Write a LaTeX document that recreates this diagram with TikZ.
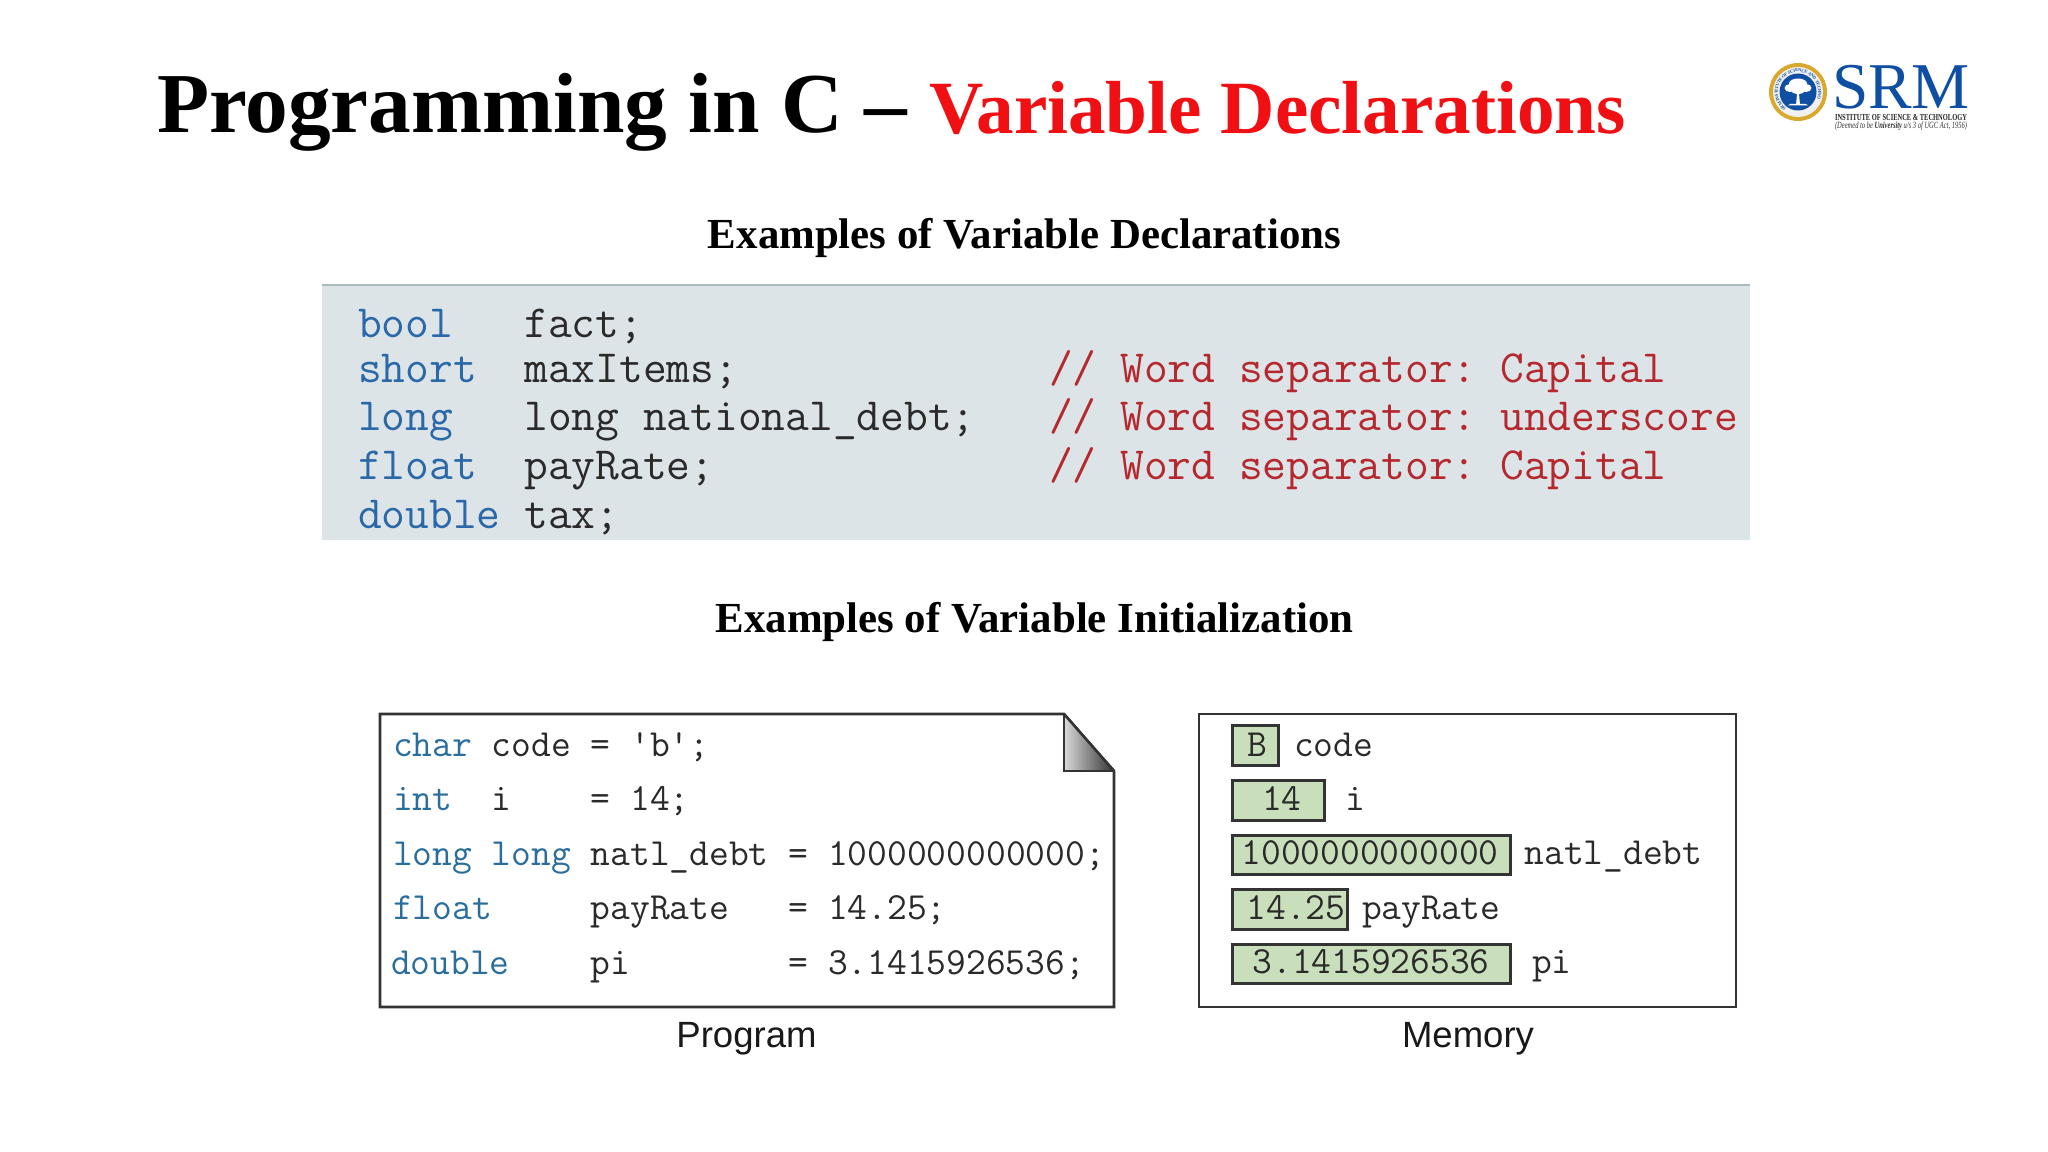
\documentclass[tikz,border=0pt]{standalone}
\usepackage{fontspec}
\setmainfont{Liberation Serif}
\setsansfont{Liberation Sans}
\usetikzlibrary{decorations.text}
\frenchspacing
\definecolor{titlered}{HTML}{F00F12}
\definecolor{panelbg}{HTML}{DCE4E8}
\definecolor{panelline}{HTML}{A9BDBF}
\definecolor{kwone}{HTML}{2B68A8}
\definecolor{cmt}{HTML}{B5282E}
\definecolor{codeink}{HTML}{2A2A2A}
\definecolor{kwtwo}{HTML}{2A6E9E}
\definecolor{memfill}{HTML}{C9DFBB}
\definecolor{srmblue}{HTML}{0F4FA3}
\definecolor{srmgold}{HTML}{D8A92C}
\newcommand{\bigcode}{\ttfamily\fontsize{34.6}{36}\selectfont}
\newcommand{\smallcode}{\ttfamily\fontsize{28.8}{30}\selectfont}
\tikzset{
  x=0.75pt, y=-0.75pt,
  txt/.style={inner sep=0pt, outer sep=0pt, anchor=base west},
  bigline/.style={txt, font=\bigcode, text=codeink},
  smallline/.style={txt, font=\smallcode, text=codeink},
  heading/.style={inner sep=0pt, anchor=base, font=\bfseries\fontsize{32.15}{36}\selectfont, text=black},
  caption/.style={inner sep=0pt, anchor=base, font=\sffamily\fontsize{27.4}{30}\selectfont, text=black!90},
  frame/.style={draw=black!80, line width=1.9pt, line join=miter},
  memcell/.style={rectangle, draw=black!80, fill=memfill, line width=1.9pt, inner sep=0pt, anchor=north west},
}
\begin{document}
\begin{tikzpicture}
\useasboundingbox (0,0) rectangle (2048,1152);
\fill[white] (0,0) rectangle (2048,1152);
% title
\node[txt, font=\bfseries\fontsize{64}{70}\selectfont] (title) at (157,133) {Programming in C –};
\node[txt, font=\bfseries\fontsize{56.4}{60}\selectfont, text=titlered] (titleb) at (929,134) {Variable Declarations};
% logo
\fill[srmgold] (1798,92) circle (29);
\fill[white!94!black] (1798,92) circle (25);
\fill[srmblue] (1798,92) circle (18.5);
\path[postaction={decorate, decoration={text along path, raise=-1.2pt, text align=center,
  text={|\fontsize{3.4}{4}\bfseries\color{srmblue}|SRM INSTITUTE OF SCIENCE AND TECHNOLOGY}}}]
  (1777.5,99.5) arc[start angle=160, end angle=380, radius=21.8];
\fill[white] (1796,105) -- (1797,94) -- (1799,94) -- (1800,105) -- cycle;
\fill[white] (1798,83.5) ellipse (9 and 5) (1790,88) ellipse (5.5 and 4) (1806,88) ellipse (5.5 and 4) (1798,90) ellipse (7 and 4);
\fill[white] (1788,105.5) -- (1808,105.5) -- (1806,104) -- (1790,104) -- cycle;
\node[txt, font=\fontsize{49}{50}\selectfont, text=srmblue] (srm) at (1832,108.5) {SRM};
\node[txt] (srmone) at (1835,121) {\resizebox{99pt}{4.6pt}{\bfseries\color{black!85}INSTITUTE OF SCIENCE \& TECHNOLOGY}};
\node[txt] (srmtwo) at (1835,128.5) {\resizebox{99pt}{5pt}{\itshape\color{black!80}(Deemed to be \textbf{University} u/s 3 of UGC Act, 1956)}};
% headings
\node[heading] (hone) at (1024.5,248) {Examples of Variable Declarations};
\node[heading] (htwo) at (1034.5,632) {Examples of Variable Initialization};
% panel
\fill[panelbg] (322,285) rectangle (1750,540);
\draw[panelline, line width=0.8pt] (322,285) -- (1750,285);
\node[bigline] (d1) at (358,337) {\textcolor{kwone}{bool}~~~fact;};
\node[bigline] (d2) at (358,382.5) {\textcolor{kwone}{short}~~maxItems;};
\node[bigline] (d3) at (358,430) {\textcolor{kwone}{long}~~~long national\_debt;};
\node[bigline] (d4) at (358,479) {\textcolor{kwone}{float}~~payRate;};
\node[bigline] (d5) at (358,528) {\textcolor{kwone}{double} tax;};
\node[bigline, text=cmt] (c2) at (1049,382.5) {// Word separator: Capital};
\node[bigline, text=cmt] (c3) at (1049,430) {// Word separator: underscore};
\node[bigline, text=cmt] (c4) at (1049,479) {// Word separator: Capital};
% program
\draw[frame] (380,714) -- (1064,714) -- (1114,771) -- (1114,1007) -- (380,1007) -- cycle;
\shade[left color=white!85!black, right color=black!80] (1064,714) -- (1114,771) -- (1064,771) -- cycle;
\draw[frame] (1064,714) -- (1064,771) -- (1114,771);
\draw[frame] (1064,714) -- (1114,771);
\node[smallline] (p1) at (393,756.5) {\textcolor{kwtwo}{char} code = 'b';};
\node[smallline] (p2) at (393,810.5) {\textcolor{kwtwo}{int}~~i~~~~= 14;};
\node[smallline] (p3) at (393,865) {\textcolor{kwtwo}{long long} natl\_debt = 1000000000000;};
\node[smallline] (p4) at (393,919.5) {\textcolor{kwtwo}{float}~~~~~payRate~~~= 14.25;};
\node[smallline] (p5) at (393,974) {\makebox[0pt][l]{\hspace{-1.5pt}\textcolor{kwtwo}{double}}~~~~~~~~~~pi~~~~~~~~= 3.1415926536;};
\node[caption] (cprog) at (746.5,1047) {Program};
% memory
\draw[frame] (1199,714) rectangle (1736,1007);
\node[memcell, minimum width=46*0.75pt, minimum height=40*0.75pt] (mb) at (1231,724) {};
\node[memcell, minimum width=92*0.75pt, minimum height=40*0.75pt] (mi) at (1231,779) {};
\node[memcell, minimum width=278*0.75pt, minimum height=39*0.75pt] (md) at (1231,834) {};
\node[memcell, minimum width=115*0.75pt, minimum height=40*0.75pt] (mr) at (1231,888) {};
\node[memcell, minimum width=278*0.75pt, minimum height=39*0.75pt] (mp) at (1231,943) {};
\node[smallline] (vb) at (1247,756.5) {B};
\node[smallline] (vi) at (1262,810.5) {14};
\node[smallline] (vd) at (1241.5,864.5) {1000000000000};
\node[smallline] (vr) at (1246.5,919.5) {14.25};
\node[smallline] (vp) at (1252.5,973.5) {3.1415926536};
\node[smallline] (nb) at (1294,756.5) {code};
\node[smallline] (ni) at (1345.5,810.5) {i};
\node[smallline] (nd) at (1524.5,864.5) {natl\_debt};
\node[smallline] (nr) at (1362,919.5) {payRate};
\node[smallline] (np) at (1532,973.5) {pi};
\node[caption] (cmem) at (1468,1047) {Memory};
\end{tikzpicture}
\end{document}
